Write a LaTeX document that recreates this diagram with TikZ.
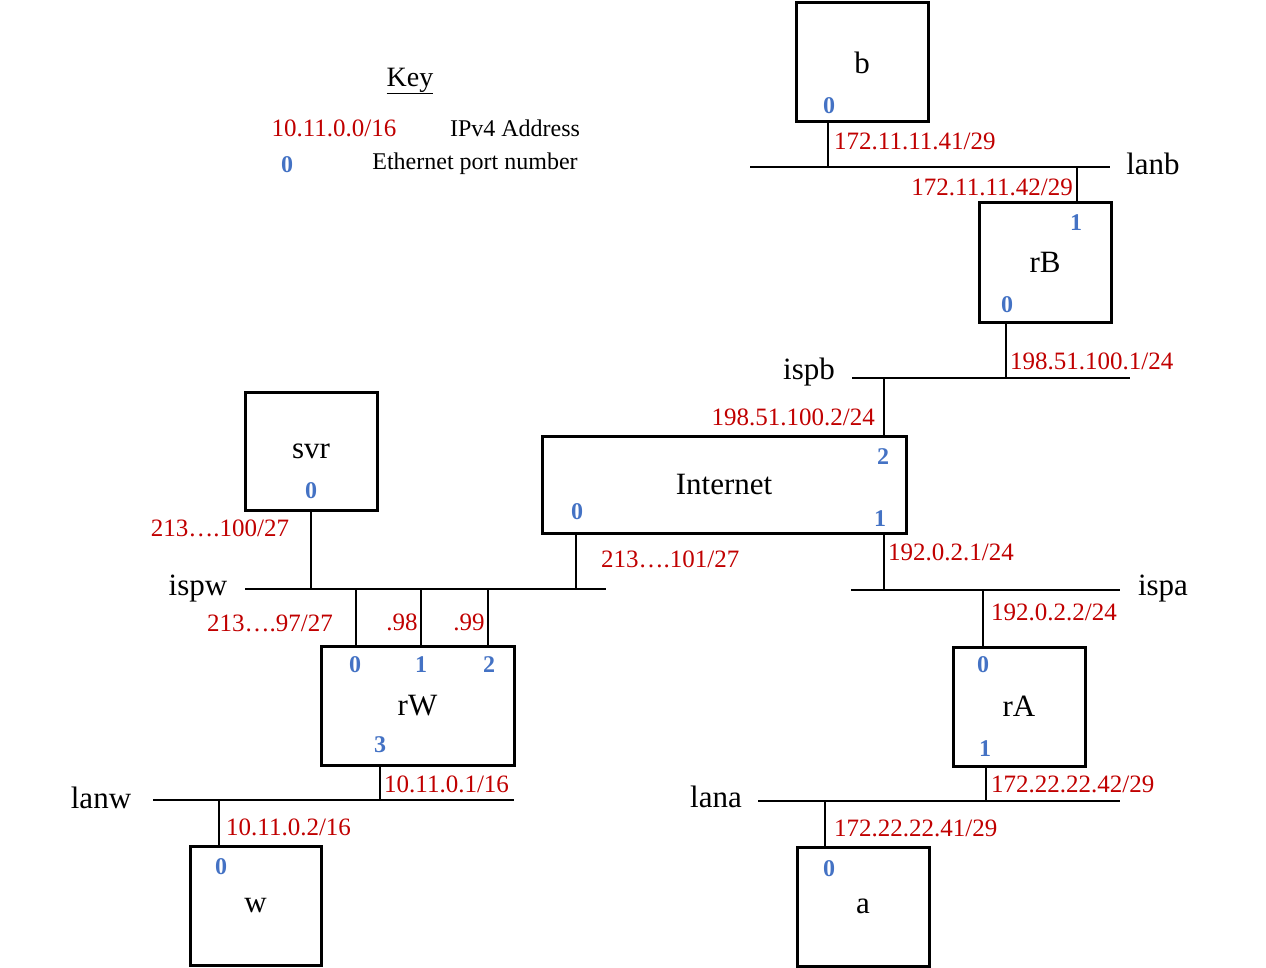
\documentclass[tikz,border=0pt]{standalone}
\usepackage{fontspec}
\setmainfont{Liberation Serif}
\usetikzlibrary{calc}
\definecolor{addr}{HTML}{C00000}
\definecolor{port}{HTML}{4472C4}
\tikzset{
  host/.style={draw, line width=3pt, minimum width=132pt, minimum height=119pt,
    inner sep=0pt, font=\fontsize{31}{31}\selectfont},
  link/.style={line width=2.2pt},
  addrlbl/.style={text=addr, inner sep=2pt, font=\fontsize{25}{25}\selectfont},
  portlbl/.style={text=port, inner sep=0pt, font=\fontsize{24}{24}\bfseries\selectfont},
  netlbl/.style={inner sep=0pt, font=\fontsize{31}{31}\selectfont},
  keylbl/.style={inner sep=0pt, font=\fontsize{24}{24}\selectfont},
}
% a network segment: name, x from, x to, y
\newcommand{\Net}[4]{%
  \draw[link] (#2,#4) coordinate (#1W) -- (#3,#4) coordinate (#1E);
}

\begin{document}
\begin{tikzpicture}[x=1pt,y=-1pt]
  \useasboundingbox (0,0) rectangle (1266,968);
  % key
  \node[keylbl, font=\fontsize{28}{28}\selectfont] (key) at (410,81) {\underline{Key}};
  \node[keylbl, text=addr, font=\fontsize{25}{25}\selectfont] (keyaddr) at (334,128) {10.11.0.0/16};
  \node[keylbl] (keyaddrtxt) at (515,128) {IPv4 Address};
  \node[portlbl] (keyport) at (287,165) {0};
  \node[keylbl] (keyporttxt) at (475,164) {Ethernet port number};

  % hosts and routers
  \node[host] (b) at (862,62.5) {b};
  \node[host] (rB) at (1045,262.5) {rB};
  \node[host, minimum width=364pt, minimum height=97pt] (inet) at (724,484.5) {Internet};
  \node[host, minimum height=118pt] (svr) at (311,451) {svr};
  \node[host, minimum width=193pt] (rW) at (417.5,705.5) {rW};
  \node[host] (rA) at (1019,706.5) {rA};
  \node[host, minimum width=131pt] (w) at (255.5,905.5) {w};
  \node[host] (a) at (863,906.5) {a};

  % port numbers
  \node[portlbl] at (829,106) {0};
  \node[portlbl] at (1076,223) {1};
  \node[portlbl] at (1007,305) {0};
  \node[portlbl] at (883,457) {2};
  \node[portlbl] at (577,512) {0};
  \node[portlbl] at (880,519) {1};
  \node[portlbl] at (311,491) {0};
  \node[portlbl] at (355,665) {0};
  \node[portlbl] at (421,665) {1};
  \node[portlbl] at (489,665) {2};
  \node[portlbl] at (380,745) {3};
  \node[portlbl] at (983,665) {0};
  \node[portlbl] at (985,749) {1};
  \node[portlbl] at (221,867) {0};
  \node[portlbl] at (829,869) {0};

  % networks
  \Net{lanb}{750}{1110}{167}
  \Net{ispb}{852}{1130}{378}
  \Net{ispa}{851}{1120}{590}
  \Net{ispw}{245}{606}{589}
  \Net{lanw}{153}{514}{800}
  \Net{lana}{758}{1120}{801}
  \node[netlbl] (lanbname) at (1153,164) {lanb};
  \node[netlbl] (ispbname) at (809,372) {ispb};
  \node[netlbl] (ispaname) at (1163,589) {ispa};
  \node[netlbl] (ispwname) at (198,589) {ispw};
  \node[netlbl] (lanwname) at (101,798) {lanw};
  \node[netlbl] (lananame) at (716,797) {lana};

  % attachment points
  \coordinate (lanb0) at (828,167);
  \coordinate (lanb1) at (1077,167);
  \coordinate (ispb0) at (1006,378);
  \coordinate (ispb1) at (884,378);
  \coordinate (ispa0) at (884,590);
  \coordinate (ispa1) at (983,590);
  \coordinate (ispw0) at (311,589);
  \coordinate (ispw1) at (576,589);
  \coordinate (ispw2) at (356,589);
  \coordinate (ispw3) at (421,589);
  \coordinate (ispw4) at (488,589);
  \coordinate (lanw0) at (380,800);
  \coordinate (lanw1) at (219,800);
  \coordinate (lana0) at (986,801);
  \coordinate (lana1) at (825,801);

  % links
  \draw[link] (lanb0 |- b.south) -- (lanb0);
  \draw[link] (lanb1 |- rB.north) -- (lanb1);
  \draw[link] (ispb0 |- rB.south) -- (ispb0);
  \draw[link] (ispb1 |- inet.north) -- (ispb1);
  \draw[link] (ispa0 |- inet.south) -- (ispa0);
  \draw[link] (ispa1 |- rA.north) -- (ispa1);
  \draw[link] (ispw0 |- svr.south) -- (ispw0);
  \draw[link] (ispw1 |- inet.south) -- (ispw1);
  \draw[link] (ispw2 |- rW.north) -- (ispw2);
  \draw[link] (ispw3 |- rW.north) -- (ispw3);
  \draw[link] (ispw4 |- rW.north) -- (ispw4);
  \draw[link] (lanw0 |- rW.south) -- (lanw0);
  \draw[link] (lanw1 |- w.north) -- (lanw1);
  \draw[link] (lana0 |- rA.south) -- (lana0);
  \draw[link] (lana1 |- a.north) -- (lana1);

  % addresses
  \node[addrlbl, anchor=west] at (832,141) {172.11.11.41/29};
  \node[addrlbl, anchor=east] at (1075,187) {172.11.11.42/29};
  \node[addrlbl, anchor=west] at (1008,361) {198.51.100.1/24};
  \node[addrlbl, anchor=east] at (877,417) {198.51.100.2/24};
  \node[addrlbl, anchor=west] at (886,552) {192.0.2.1/24};
  \node[addrlbl, anchor=west] at (989,612) {192.0.2.2/24};
  \node[addrlbl, anchor=west] at (989,784) {172.22.22.42/29};
  \node[addrlbl, anchor=west] at (832,828) {172.22.22.41/29};
  \node[addrlbl, anchor=west] at (599,559) {213….101/27};
  \node[addrlbl] at (220,528) {213….100/27};
  \node[addrlbl] at (270,623) {213….97/27};
  \node[addrlbl] at (402,622) {.98};
  \node[addrlbl] at (469,622) {.99};
  \node[addrlbl, anchor=west] at (382,784) {10.11.0.1/16};
  \node[addrlbl, anchor=west] at (224,827) {10.11.0.2/16};
\end{tikzpicture}
\end{document}
